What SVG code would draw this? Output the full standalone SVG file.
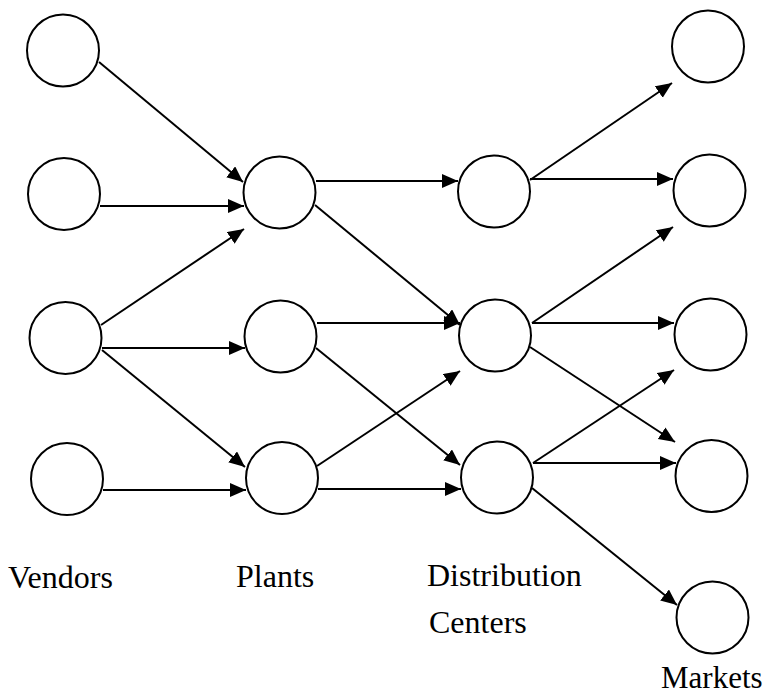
<svg xmlns="http://www.w3.org/2000/svg" width="765" height="696" viewBox="0 0 765 696">
  <style>
    .node { fill: #ffffff; stroke: #000000; stroke-width: 2; }
    .edge { stroke: #000000; stroke-width: 2; fill: none; marker-end: url(#arrow); }
    .label { font-family: "Liberation Serif", "Times New Roman", serif; font-size: 32px; fill: #000000; }
  </style>
  <defs>
    <marker id="arrow" markerUnits="userSpaceOnUse" markerWidth="17" markerHeight="15" refX="16" refY="7" orient="auto">
      <path d="M0,0 L16,7 L0,14 z" fill="#000000"/>
    </marker>
  </defs>
  <rect width="765" height="696" fill="#ffffff"/>

  <!-- connectors -->
  <g id="connectors">
    <!-- vendors to plants -->
    <line class="edge" x1="99" y1="62" x2="243" y2="182"/>
    <line class="edge" x1="100" y1="206" x2="244" y2="206"/>
    <line class="edge" x1="101" y1="325" x2="244" y2="229"/>
    <line class="edge" x1="102" y1="348" x2="245" y2="348"/>
    <line class="edge" x1="102" y1="350" x2="245" y2="467"/>
    <line class="edge" x1="103" y1="490" x2="246" y2="490"/>
    <!-- plants to distribution centers -->
    <line class="edge" x1="316" y1="181" x2="458" y2="181"/>
    <line class="edge" x1="315" y1="205" x2="460" y2="325"/>
    <line class="edge" x1="317" y1="323" x2="460" y2="323"/>
    <line class="edge" x1="316" y1="348" x2="460" y2="465"/>
    <line class="edge" x1="317" y1="466" x2="460" y2="371"/>
    <line class="edge" x1="318" y1="489" x2="461" y2="489"/>
    <!-- distribution centers to markets -->
    <line class="edge" x1="530" y1="180" x2="672" y2="83"/>
    <line class="edge" x1="530" y1="179" x2="673" y2="179"/>
    <line class="edge" x1="532" y1="323" x2="673" y2="227"/>
    <line class="edge" x1="532" y1="323" x2="674" y2="323"/>
    <line class="edge" x1="530" y1="347" x2="675" y2="442"/>
    <line class="edge" x1="533" y1="463" x2="674" y2="370"/>
    <line class="edge" x1="533" y1="463" x2="676" y2="463"/>
    <line class="edge" x1="532" y1="488" x2="677" y2="605"/>
  </g>

  <!-- vendors -->
  <g id="vendor-1"><circle class="node" cx="63" cy="50.5" r="36"/></g>
  <g id="vendor-2"><circle class="node" cx="64" cy="194" r="36"/></g>
  <g id="vendor-3"><circle class="node" cx="65.5" cy="338" r="36"/></g>
  <g id="vendor-4"><circle class="node" cx="67" cy="479" r="36"/></g>

  <!-- plants -->
  <g id="plant-1"><circle class="node" cx="279.5" cy="192.5" r="36"/></g>
  <g id="plant-2"><circle class="node" cx="280.5" cy="336.5" r="36"/></g>
  <g id="plant-3"><circle class="node" cx="282" cy="478" r="36"/></g>

  <!-- distribution centers -->
  <g id="dc-1"><circle class="node" cx="494" cy="191.5" r="36"/></g>
  <g id="dc-2"><circle class="node" cx="495" cy="335.5" r="36"/></g>
  <g id="dc-3"><circle class="node" cx="497" cy="477.5" r="36"/></g>

  <!-- markets -->
  <g id="market-1"><circle class="node" cx="708" cy="46.5" r="36"/></g>
  <g id="market-2"><circle class="node" cx="709.5" cy="190.5" r="36"/></g>
  <g id="market-3"><circle class="node" cx="710.5" cy="334.5" r="36"/></g>
  <g id="market-4"><circle class="node" cx="711.5" cy="476" r="36"/></g>
  <g id="market-5"><circle class="node" cx="712.5" cy="617.5" r="36"/></g>

  <!-- column labels -->
  <g id="labels">
    <text class="label" x="8" y="588">Vendors</text>
    <text class="label" x="236" y="587">Plants</text>
    <text class="label" x="427" y="586">Distribution</text>
    <text class="label" x="429" y="633">Centers</text>
    <text class="label" x="661" y="688" style="font-size:31px">Markets</text>
  </g>
</svg>
